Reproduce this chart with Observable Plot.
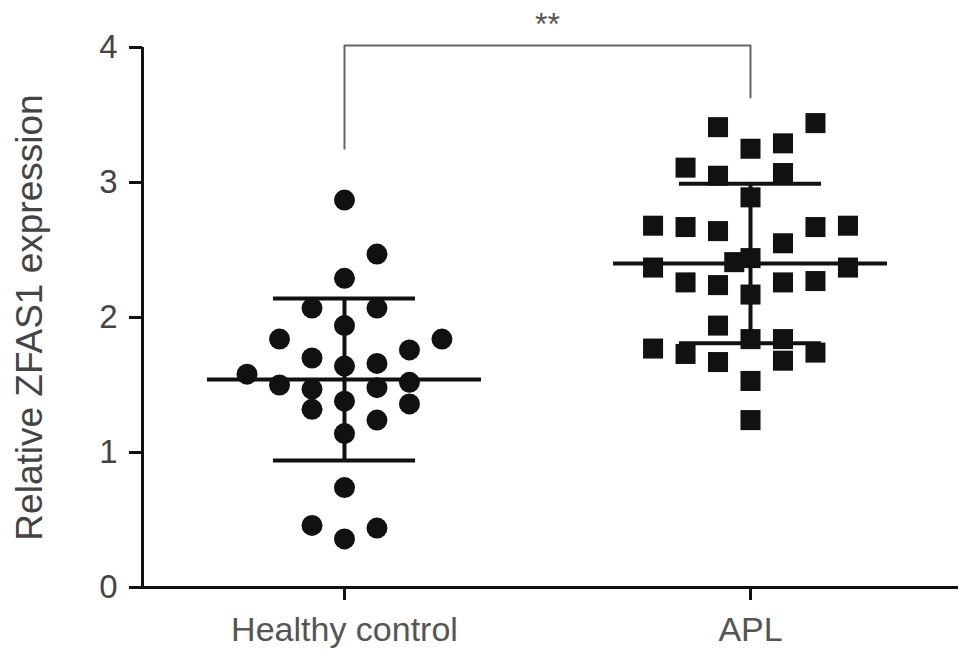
<!DOCTYPE html>
<html>
<head>
<meta charset="utf-8">
<script src="https://cdn.jsdelivr.net/npm/d3@7"></script>
<script src="https://cdn.jsdelivr.net/npm/@observablehq/plot@0.6"></script>
<style>
  html, body { margin: 0; padding: 0; background: #fff; }
  #chart svg { display: block; }
</style>
</head>
<body>
<div id="chart"></div>
<script>
// ---- data ----
const groups = ["Healthy control", "APL"];
const yTicks = [0, 1, 2, 3, 4];

// Healthy control: values and swarm column slot
const healthyValues = [2.87, 2.47, 2.29, 2.07, 2.07, 1.94, 1.84, 1.84, 1.70, 1.76, 1.64, 1.66, 1.58,
  1.50, 1.47, 1.48, 1.52, 1.38, 1.32, 1.36, 1.24, 1.14, 0.74, 0.46, 0.44, 0.36];
const healthySlot = [0, 1, 0, -1, 1, 0, -2, 3, -1, 2, 0, 1, -3, -2, -1, 1, 2, 0, -1, 2, 1, 0, 0, -1, 1, 0];

// APL: values and swarm column slot
const aplValues = [3.41, 3.44, 3.25, 3.29, 3.11, 3.05, 3.07, 2.89, 2.68, 2.67, 2.64, 2.67, 2.68, 2.55,
  2.37, 2.41, 2.44, 2.37, 2.26, 2.24, 2.17, 2.26, 2.27, 1.94, 1.84, 1.84, 1.68, 1.77, 1.73, 1.74,
  1.67, 1.53, 1.24];
const aplSlot = [-1, 2, 0, 1, -2, -1, 1, 0, -3, -2, -1, 2, 3, 1, -3, -0.5, 0, 3, -2, -1, 0, 1, 2, -1,
  0, 1, 1, -3, -2, 2, -1, 0, 0];

// summary statistics (mean ± SD)
const means = [1.54, 2.40];
const sds = [0.60, 0.59];

// significance bracket
const bracketTop = 4.015;
const bracketEnds = [3.25, 3.63];
const sigLabel = "**";

// ---- build tables ----
const slotStep = 0.08;
const healthy = healthyValues.map((v, i) => ({g: 0, x: 0 + healthySlot[i] * slotStep, y: v}));
const apl = aplValues.map((v, i) => ({g: 1, x: 1 + aplSlot[i] * slotStep, y: v}));
const stats = means.map((m, i) => ({g: i, mean: m, lo: m - sds[i], hi: m + sds[i]}));
const bracket = [
  {x: 0, y: bracketEnds[0]}, {x: 0, y: bracketTop}, {x: 1, y: bracketTop}, {x: 1, y: bracketEnds[1]}
];

const meanHalf = 0.3374, sdHalf = 0.175;
const font = "'Liberation Sans', Arial, sans-serif";
const xDomain = [-0.4975, 1.5123];

const chart = Plot.plot({
  width: 969,
  height: 669,
  marginLeft: 142,
  marginRight: 11,
  marginTop: 47,
  marginBottom: 82,
  style: {fontFamily: font, background: "#fff"},
  x: {domain: xDomain},
  y: {domain: [0, 4]},
  marks: [
    // axes lines
    Plot.ruleX([xDomain[0]], {y1: 0, y2: 4, stroke: "#111", strokeWidth: 3}),
    Plot.ruleY([0], {x1: xDomain[0], x2: xDomain[1], stroke: "#111", strokeWidth: 3}),
    Plot.axisY({ticks: yTicks, tickFormat: "d", tickSize: 13, tickPadding: 12, fontSize: 33, stroke: "#111", strokeWidth: 3, fill: "#444", label: null}),
    Plot.axisX({ticks: [0, 1], tickFormat: i => groups[i], tickSize: 13, tickPadding: 16, fontSize: 34, stroke: "#111", strokeWidth: 3, fill: "#555", label: null}),
    Plot.text(["Relative ZFAS1 expression"], {frameAnchor: "left", textAnchor: "middle", rotate: -90, dx: -112, fontSize: 37, fill: "#444"}),
    // points
    Plot.dot(healthy, {x: "x", y: "y", r: 10.5, fill: "#111", stroke: "none", symbol: "circle"}),
    Plot.dot(apl, {x: "x", y: "y", r: 11.3, fill: "#111", stroke: "none", symbol: "square"}),
    // mean and SD
    Plot.ruleY(stats, {y: "mean", x1: d => d.g - meanHalf, x2: d => d.g + meanHalf, stroke: "#111", strokeWidth: 4}),
    Plot.ruleY(stats, {y: "hi", x1: d => d.g - sdHalf, x2: d => d.g + sdHalf, stroke: "#111", strokeWidth: 4}),
    Plot.ruleY(stats, {y: "lo", x1: d => d.g - sdHalf, x2: d => d.g + sdHalf, stroke: "#111", strokeWidth: 4}),
    Plot.ruleX(stats, {x: "g", y1: "lo", y2: "hi", stroke: "#111", strokeWidth: 4}),
    // significance
    Plot.line(bracket, {x: "x", y: "y", stroke: "#666", strokeWidth: 2}),
    Plot.text([sigLabel], {x: () => 0.5, y: () => 4.17, fontSize: 32, fill: "#555"})
  ]
});
document.getElementById("chart").appendChild(chart);
</script>
</body>
</html>
